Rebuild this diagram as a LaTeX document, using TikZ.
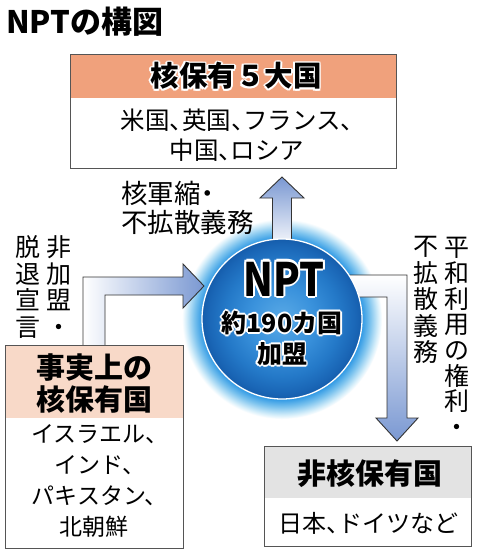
\documentclass[tikz,border=0pt]{standalone}
\usepackage{fontspec}
\usepackage{graphicx}
\setmainfont{Noto Sans CJK JP}[RawFeature=+halt]
\definecolor{hdorange}{HTML}{F0A17C}
\definecolor{hdpeach}{HTML}{F8D9C8}
\definecolor{hdgray}{HTML}{E3E3E3}
\definecolor{border}{HTML}{555555}
\definecolor{ablue}{HTML}{7A98D2}
\definecolor{ballc}{HTML}{5AAAE6}
\definecolor{ballm}{HTML}{3A92DC}
\definecolor{balln}{HTML}{2479C8}
\definecolor{balld}{HTML}{1A66B6}
\definecolor{balle}{HTML}{155DAC}
\definecolor{glowa}{HTML}{2E98E4}
\definecolor{glowb}{HTML}{7CC3EE}
\definecolor{glowc}{HTML}{D5EEFA}
\pgfdeclareradialshading{ballblue}{\pgfpoint{0bp}{0bp}}{color(0bp)=(ballc); color(10bp)=(ballm); color(18bp)=(balln); color(23bp)=(balld); color(25bp)=(balle); color(50bp)=(balle)}
\pgfdeclareradialshading{glowshade}{\pgfpoint{0bp}{0bp}}{color(0bp)=(glowa); color(20bp)=(glowa); color(22bp)=(glowb); color(24bp)=(glowc); color(25bp)=(white); color(50bp)=(white)}
\newcommand\hl[3]{\rlap{\kern#1\raisebox{#2}{\color{white}#3}}}
\newcommand\halox[3]{\hl{#1}{0pt}{#3}\hl{-#1}{0pt}{#3}\hl{0pt}{#1}{#3}\hl{0pt}{-#1}{#3}%
\hl{#2}{#2}{#3}\hl{-#2}{#2}{#3}\hl{#2}{-#2}{#3}\hl{-#2}{-#2}{#3}#3}
\newcommand\halo[1]{\halox{1.7pt}{1.2pt}{#1}}
\newcommand\bighalo[1]{\halox{2.4pt}{1.7pt}{#1}}
\tikzset{
  txt/.style={inner sep=0pt, align=center},
  boxline/.style={draw=border, line width=1.1pt},
  arrowline/.style={draw=black!80, line width=0.9pt, line join=miter},
  vert/.style={inner sep=0pt, align=center, font=\fontsize{25}{26.5}\selectfont}
}
\begin{document}
\begin{tikzpicture}[x=1pt,y=-1pt]
\useasboundingbox (0,0) rectangle (480,552);
\fill[white] (0,0) rectangle (480,552);
% title
\node (title) [txt, anchor=west, font=\bfseries\fontsize{31}{34}\selectfont] at (6,22) {NPTの構図};
% top box
\fill[hdorange] (70,54) rectangle (396,98);
\node (p5box) [boxline, anchor=north west, minimum width=326pt, minimum height=114pt, inner sep=0pt] at (70,54) {};
\node (p5head) [txt, font=\bfseries\fontsize{28.5}{30}\selectfont] at (236,76) {\halo{核保有５大国}};
\node (p5body) [txt, font=\fontsize{24.5}{30}\selectfont] at (237,135) {米国、英国、フランス、\\中国、ロシア};
% glow
\shade[shading=glowshade] (282,319) circle (100);
% arrows
\draw[arrowline, top color=ablue, bottom color=white] (272.5,250) -- (272.5,198) -- (260,198) -- (282,177) -- (304,198) -- (291.5,198) -- (291.5,250);
\draw[arrowline, left color=white, right color=ablue] (83,346) -- (83,277) -- (183,277) -- (183,264) -- (204,286) -- (183,308) -- (183,295) -- (105,295) -- (105,346);
\draw[arrowline, top color=white, bottom color=ablue] (340,275) -- (407,275) -- (407,418) -- (418,418) -- (397,441) -- (376,418) -- (387,418) -- (387,297) -- (340,297);
% circle
\node (npt) [circle, minimum size=160pt, inner sep=0pt, shading=ballblue, draw=white, line width=1.3pt] at (282,319) {};
\node (nptname) [txt, font=\bfseries\fontsize{46}{48}\selectfont] at (284,279) {\scalebox{0.85}[1]{\bighalo{NPT}}};
\node (nptnum) [txt, font=\bfseries\fontsize{25}{26}\selectfont] at (282,323) {\halo{約190カ国}};
\node (nptjoin) [txt, font=\bfseries\fontsize{25}{26}\selectfont] at (282,354) {\halo{加盟}};
% labels
\node (lup) [txt, align=left, anchor=west, font=\fontsize{26.5}{29}\selectfont] at (121,207.5) {核軍縮・\\不拡散義務};
\node (lv1) [vert] at (59,286) {非\\加\\盟\\・};
\node (lv2) [vert] at (28,287) {脱\\退\\宣\\言};
\node (rv1) [vert] at (426,300) {不\\拡\\散\\義\\務};
\node (rv2) [vert, font=\fontsize{25}{25.7}\selectfont] at (457,337) {平\\和\\利\\用\\の\\権\\利\\・};
% left box
\fill[hdpeach] (5,345) rectangle (183,418);
\node (dfbox) [boxline, anchor=north west, minimum width=178pt, minimum height=203pt, inner sep=0pt] at (5,345) {};
\node (dfhead) [txt, font=\bfseries\fontsize{29}{32}\selectfont] at (94,384) {事実上の\\核保有国};
\node (dfbody) [txt, font=\fontsize{23}{31}\selectfont] at (94,481) {イスラエル、\\インド、\\パキスタン、\\北朝鮮};
% right box
\fill[hdgray] (264,446) rectangle (471,498);
\node (nnbox) [boxline, anchor=north west, minimum width=207pt, minimum height=100pt, inner sep=0pt] at (264,446) {};
\node (nnhead) [txt, font=\bfseries\fontsize{29}{30}\selectfont] at (370,474) {非核保有国};
\node (nnbody) [txt, font=\fontsize{24}{26}\selectfont] at (368,523) {日本、ドイツなど};
\end{tikzpicture}
\end{document}
